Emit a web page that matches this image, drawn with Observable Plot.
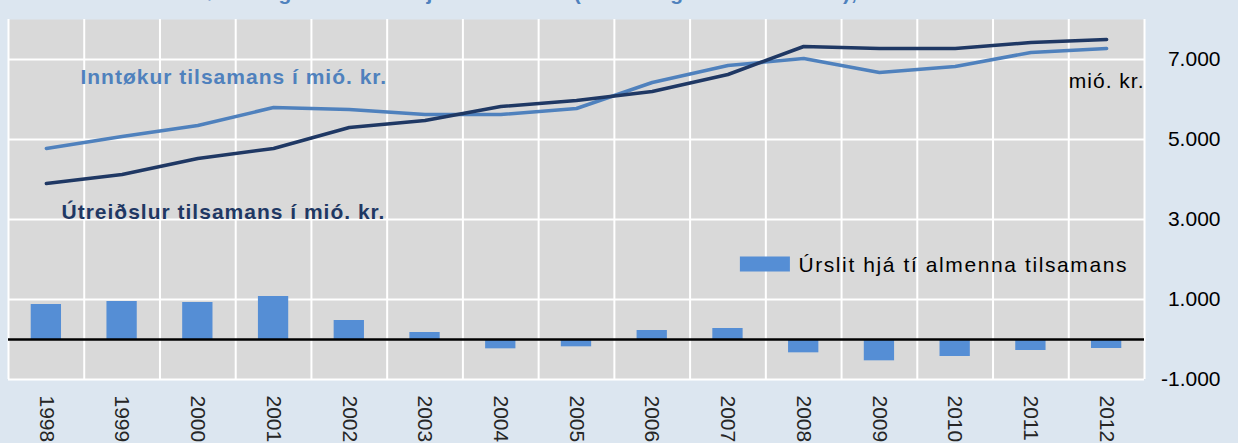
<!DOCTYPE html>
<html>
<head>
<meta charset="utf-8">
<script src="https://cdn.jsdelivr.net/npm/d3@7"></script>
<script src="https://cdn.jsdelivr.net/npm/@observablehq/plot@0.6"></script>
<style>
  html, body { margin: 0; padding: 0; background: #dce6f0; overflow: hidden; }
  #wrap { position: relative; width: 1238px; height: 443px; }
  #title { position: absolute; top: -18px; left: 0; width: 1112px; text-align: center;
           font: bold 21px "Liberation Sans", Arial, sans-serif; line-height: 21px;
           letter-spacing: 1px; color: #4f81bd; white-space: nowrap; }
  #chart { position: absolute; top: 0; left: 0; }
</style>
</head>
<body>
<div id="wrap">
  <div id="title">Inntøkur og útreiðslur hjá tí almenna (landið og kommunurnar), mió. kr.</div>
  <div id="chart"></div>
</div>
<script>
const years = [1998, 1999, 2000, 2001, 2002, 2003, 2004, 2005, 2006, 2007, 2008, 2009, 2010, 2011, 2012];
const inntokur = [4775, 5075, 5350, 5800, 5750, 5625, 5625, 5775, 6425, 6850, 7025, 6675, 6825, 7175, 7275];
const utreidslur = [3900, 4125, 4525, 4775, 5300, 5475, 5825, 5975, 6200, 6625, 7325, 7275, 7275, 7425, 7500];
const urslit = [875, 950, 925, 1075, 475, 175, -233, -183, 225, 275, -333, -533, -425, -275, -225];
const yTicks = [-1000, 1000, 3000, 5000, 7000];

const lightBlue = "#4f81bd";
const barBlue = "#558ed5";
const darkBlue = "#1f3864";
const font = "'Liberation Sans', Arial, sans-serif";

const rows = years.map((y, i) => ({year: y, inn: inntokur[i], ut: utreidslur[i], res: urslit[i]}));
const boundaries = [years[0] - 0.5, ...years.map(y => y + 0.5)];
const fmt = d3.formatLocale({decimal: ",", thousands: ".", grouping: [3], currency: ["", ""], minus: "-"}).format(",");

const chart = Plot.plot({
  width: 1238,
  height: 443,
  marginLeft: 8,
  marginRight: 94,
  marginTop: 19,
  marginBottom: 64,
  style: {background: "transparent", fontFamily: font, fontSize: "21px", color: "#262626"},
  x: {type: "linear", domain: [years[0] - 0.5, years[years.length - 1] + 0.5], ticks: years,
      tickFormat: d => String(d), tickRotate: 90, tickSize: 0, tickPadding: 16, label: null},
  y: {domain: [-1000, 8000], axis: null},
  marks: [
    Plot.frame({fill: "#d9d9d9", stroke: null}),
    Plot.ruleY(yTicks, {stroke: "white", strokeWidth: 2}),
    Plot.ruleX(boundaries, {stroke: "white", strokeWidth: 2}),
    Plot.rectY(rows, {x1: d => d.year - 0.2, x2: d => d.year + 0.2, y1: 0, y2: "res", fill: barBlue}),
    Plot.ruleY([0], {stroke: "black", strokeWidth: 2.5}),
    Plot.line(rows, {x: "year", y: "inn", stroke: lightBlue, strokeWidth: 3.5}),
    Plot.line(rows, {x: "year", y: "ut", stroke: darkBlue, strokeWidth: 3.5}),
    Plot.text(yTicks, {y: d => d, text: d => fmt(d), frameAnchor: "right", textAnchor: "end", dx: 76, fill: "black", fontSize: 21}),
    Plot.text(["Inntøkur tilsamans í mió. kr."], {x: 1998.45, y: 6400, text: d => d, textAnchor: "start", lineAnchor: "bottom",
      fill: lightBlue, fontWeight: "bold", fontSize: 21}),
    Plot.text(["Útreiðslur tilsamans í mió. kr."], {x: 1998.2, y: 3025, text: d => d, textAnchor: "start", lineAnchor: "bottom",
      fill: darkBlue, fontWeight: "bold", fontSize: 21}),
    Plot.text(["mió. kr."], {x: 2012.5, y: 6300, text: d => d, textAnchor: "end", lineAnchor: "bottom", fill: "black", fontSize: 21}),
    Plot.text(["Úrslit hjá tí almenna tilsamans"], {x: 2007.93, y: 1700, text: d => d, textAnchor: "start", lineAnchor: "bottom", fill: "black", fontSize: 21})
  ]
});

// letter spacing on annotation texts to match the reference's wide rendering
chart.querySelectorAll("text").forEach(t => {
  const s = t.textContent;
  if (s.startsWith("Úrslit")) t.setAttribute("letter-spacing", "1.6px");
  else if (s.includes("tilsamans") || s === "mió. kr.") t.setAttribute("letter-spacing", "1px");
});
document.getElementById("chart").appendChild(chart);

// legend swatch (placed through the chart's scales)
const xs = chart.scale("x"), ys = chart.scale("y");
const ns = "http://www.w3.org/2000/svg";
const sw = document.createElementNS(ns, "rect");
const x0 = xs.apply(2007.93);
sw.setAttribute("x", x0 - 58);
sw.setAttribute("y", ys.apply(1700) - 14.5);
sw.setAttribute("width", 50);
sw.setAttribute("height", 15);
sw.setAttribute("fill", barBlue);
chart.appendChild(sw);
</script>
</body>
</html>
